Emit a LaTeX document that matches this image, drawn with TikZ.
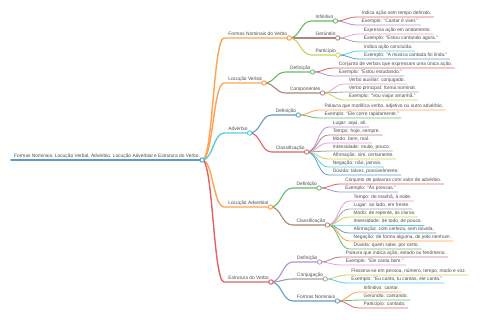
\documentclass[tikz,border=0pt]{standalone}
\usepackage{fontspec}
\setmainfont{Liberation Sans}
\usetikzlibrary{calc}
\definecolor{c0}{HTML}{1F77B4}
\definecolor{c1}{HTML}{FF7F0E}
\definecolor{c2}{HTML}{2CA02C}
\definecolor{c3}{HTML}{D62728}
\definecolor{c4}{HTML}{9467BD}
\definecolor{c5}{HTML}{8C564B}
\definecolor{c6}{HTML}{E377C2}
\definecolor{c7}{HTML}{7F7F7F}
\definecolor{c8}{HTML}{BCBD22}
\definecolor{c9}{HTML}{17BECF}
\tikzset{
  txt/.style={font=\fontsize{4.85}{6}\selectfont, text=black!70, inner sep=0pt, anchor=base west},
  dot/.style={circle, draw, fill=white, inner sep=0pt, minimum size=4.4pt},
  lk/.style={line cap=round},
}
% name, parent, y, color, line width, text
\newcommand\MMnode[6]{%
  \path (#2 |- 0,#3) ++(22,0) coordinate (#1s);
  \node[txt] (#1t) at ($(#1s)+(4,-2)$) {#6};
  \path (#1t.east |- #1s) ++(2,0) coordinate (#1);
  \draw[lk, #4!72!white, line width=#5] let \p1=(#2), \p2=(#1s) in
    (\p1) .. controls ({(\x1+\x2)/2},\y1) and ({(\x1+\x2)/2},\y2) .. (\p2) -- (#1);
}
\newcommand\MMdot[3]{\node[dot, draw=#2!72!white, line width=#3] at (#1) {};}
\begin{document}
\begin{tikzpicture}[x=1pt,y=-1pt]
\fill[white] (0,0) rectangle (480,320);
\useasboundingbox (0,0) rectangle (480,320);
% root
\coordinate (nrs) at (11,160);
\node[txt] (nrt) at ($(nrs)+(3,-2)$) {Formas Nominais, Locução Verbal, Advérbio, Locução Adverbial e Estrutura do Verbo.};
\path (nrt.east |- nrs) ++(2,0) coordinate (nr);
\draw[lk, c0!72!white, line width=1.6pt] (nrs) -- (nr);
% level 1
\MMnode{na}{nr}{38}{c1}{1.4pt}{Formas Nominais do Verbo}
\MMnode{nb}{nr}{83}{c1}{1.4pt}{Locução Verbal}
\MMnode{nc}{nr}{133}{c9}{1.4pt}{Advérbio}
\MMnode{nd}{nr}{207}{c1}{1.4pt}{Locução Adverbial}
\MMnode{ne}{nr}{282}{c3}{1.4pt}{Estrutura do Verbo}
% Formas Nominais do Verbo
\MMnode{na1}{na}{21}{c2}{1.1pt}{Infinitivo}
\MMnode{na11}{na1}{17}{c3}{0.8pt}{Indica ação sem tempo definido.}
\MMnode{na12}{na1}{25}{c4}{0.8pt}{Exemplo: "Cantar é viver."}
\MMnode{na2}{na}{38}{c5}{1.1pt}{Gerúndio}
\MMnode{na21}{na2}{34}{c6}{0.8pt}{Expressa ação em andamento.}
\MMnode{na22}{na2}{42}{c7}{0.8pt}{Exemplo: "Estou cantando agora."}
\MMnode{na3}{na}{55}{c8}{1.1pt}{Particípio}
\MMnode{na31}{na3}{51}{c9}{0.8pt}{Indica ação concluída.}
\MMnode{na32}{na3}{59}{c0}{0.8pt}{Exemplo: "A música cantada foi linda."}
% Locução Verbal
\MMnode{nb1}{nb}{72}{c2}{1.1pt}{Definição}
\MMnode{nb11}{nb1}{68}{c3}{0.8pt}{Conjunto de verbos que expressam uma única ação.}
\MMnode{nb12}{nb1}{76}{c4}{0.8pt}{Exemplo: "Estou estudando."}
\MMnode{nb2}{nb}{93}{c5}{1.1pt}{Componentes}
\MMnode{nb21}{nb2}{84}{c6}{0.8pt}{Verbo auxiliar: conjugado.}
\MMnode{nb22}{nb2}{92}{c7}{0.8pt}{Verbo principal: forma nominal.}
\MMnode{nb23}{nb2}{100}{c8}{0.8pt}{Exemplo: "Vou viajar amanhã."}
% Advérbio
\MMnode{nc1}{nc}{115}{c0}{1.1pt}{Definição}
\MMnode{nc11}{nc1}{110}{c1}{0.8pt}{Palavra que modifica verbo, adjetivo ou outro advérbio.}
\MMnode{nc12}{nc1}{118}{c2}{0.8pt}{Exemplo: "Ele corre rapidamente."}
\MMnode{nc2}{nc}{152}{c3}{1.1pt}{Classificação}
\MMnode{nc21}{nc2}{127}{c4}{0.8pt}{Lugar: aqui, ali.}
\MMnode{nc22}{nc2}{135}{c5}{0.8pt}{Tempo: hoje, sempre.}
\MMnode{nc23}{nc2}{143}{c6}{0.8pt}{Modo: bem, mal.}
\MMnode{nc24}{nc2}{151}{c7}{0.8pt}{Intensidade: muito, pouco.}
\MMnode{nc25}{nc2}{159}{c8}{0.8pt}{Afirmação: sim, certamente.}
\MMnode{nc26}{nc2}{167}{c9}{0.8pt}{Negação: não, jamais.}
\MMnode{nc27}{nc2}{175}{c0}{0.8pt}{Dúvida: talvez, possivelmente.}
% Locução Adverbial
\MMnode{nd1}{nd}{188}{c2}{1.1pt}{Definição}
\MMnode{nd11}{nd1}{184}{c3}{0.8pt}{Conjunto de palavras com valor de advérbio.}
\MMnode{nd12}{nd1}{192}{c4}{0.8pt}{Exemplo: "Às pressas."}
\MMnode{nd2}{nd}{225}{c5}{1.1pt}{Classificação}
\MMnode{nd21}{nd2}{201}{c6}{0.8pt}{Tempo: de manhã, à noite.}
\MMnode{nd22}{nd2}{209}{c7}{0.8pt}{Lugar: ao lado, em frente.}
\MMnode{nd23}{nd2}{217}{c8}{0.8pt}{Modo: de repente, às claras.}
\MMnode{nd24}{nd2}{225}{c9}{0.8pt}{Intensidade: de todo, de pouco.}
\MMnode{nd25}{nd2}{233}{c0}{0.8pt}{Afirmação: com certeza, sem dúvida.}
\MMnode{nd26}{nd2}{241}{c1}{0.8pt}{Negação: de forma alguma, de jeito nenhum.}
\MMnode{nd27}{nd2}{249}{c2}{0.8pt}{Dúvida: quem sabe, por certo.}
% Estrutura do Verbo
\MMnode{ne1}{ne}{262}{c4}{1.1pt}{Definição}
\MMnode{ne11}{ne1}{257}{c5}{0.8pt}{Palavra que indica ação, estado ou fenômeno.}
\MMnode{ne12}{ne1}{265}{c6}{0.8pt}{Exemplo: "Ele canta bem."}
\MMnode{ne2}{ne}{279}{c7}{1.1pt}{Conjugação}
\MMnode{ne21}{ne2}{275}{c8}{0.8pt}{Flexiona-se em pessoa, número, tempo, modo e voz.}
\MMnode{ne22}{ne2}{283}{c9}{0.8pt}{Exemplo: "Eu canto, tu cantas, ele canta."}
\MMnode{ne3}{ne}{301}{c0}{1.1pt}{Formas Nominais}
\MMnode{ne31}{ne3}{292}{c1}{0.8pt}{Infinitivo: cantar.}
\MMnode{ne32}{ne3}{300}{c2}{0.8pt}{Gerúndio: cantando.}
\MMnode{ne33}{ne3}{308}{c3}{0.8pt}{Particípio: cantado.}
% circles
\MMdot{nr}{c0}{1pt}
\MMdot{na}{c1}{1pt}\MMdot{nb}{c1}{1pt}\MMdot{nc}{c9}{1pt}\MMdot{nd}{c1}{1pt}\MMdot{ne}{c3}{1pt}
\MMdot{na1}{c2}{0.8pt}\MMdot{na2}{c5}{0.8pt}\MMdot{na3}{c8}{0.8pt}
\MMdot{nb1}{c2}{0.8pt}\MMdot{nb2}{c5}{0.8pt}
\MMdot{nc1}{c0}{0.8pt}\MMdot{nc2}{c3}{0.8pt}
\MMdot{nd1}{c2}{0.8pt}\MMdot{nd2}{c5}{0.8pt}
\MMdot{ne1}{c4}{0.8pt}\MMdot{ne2}{c7}{0.8pt}\MMdot{ne3}{c0}{0.8pt}
\end{tikzpicture}
\end{document}
